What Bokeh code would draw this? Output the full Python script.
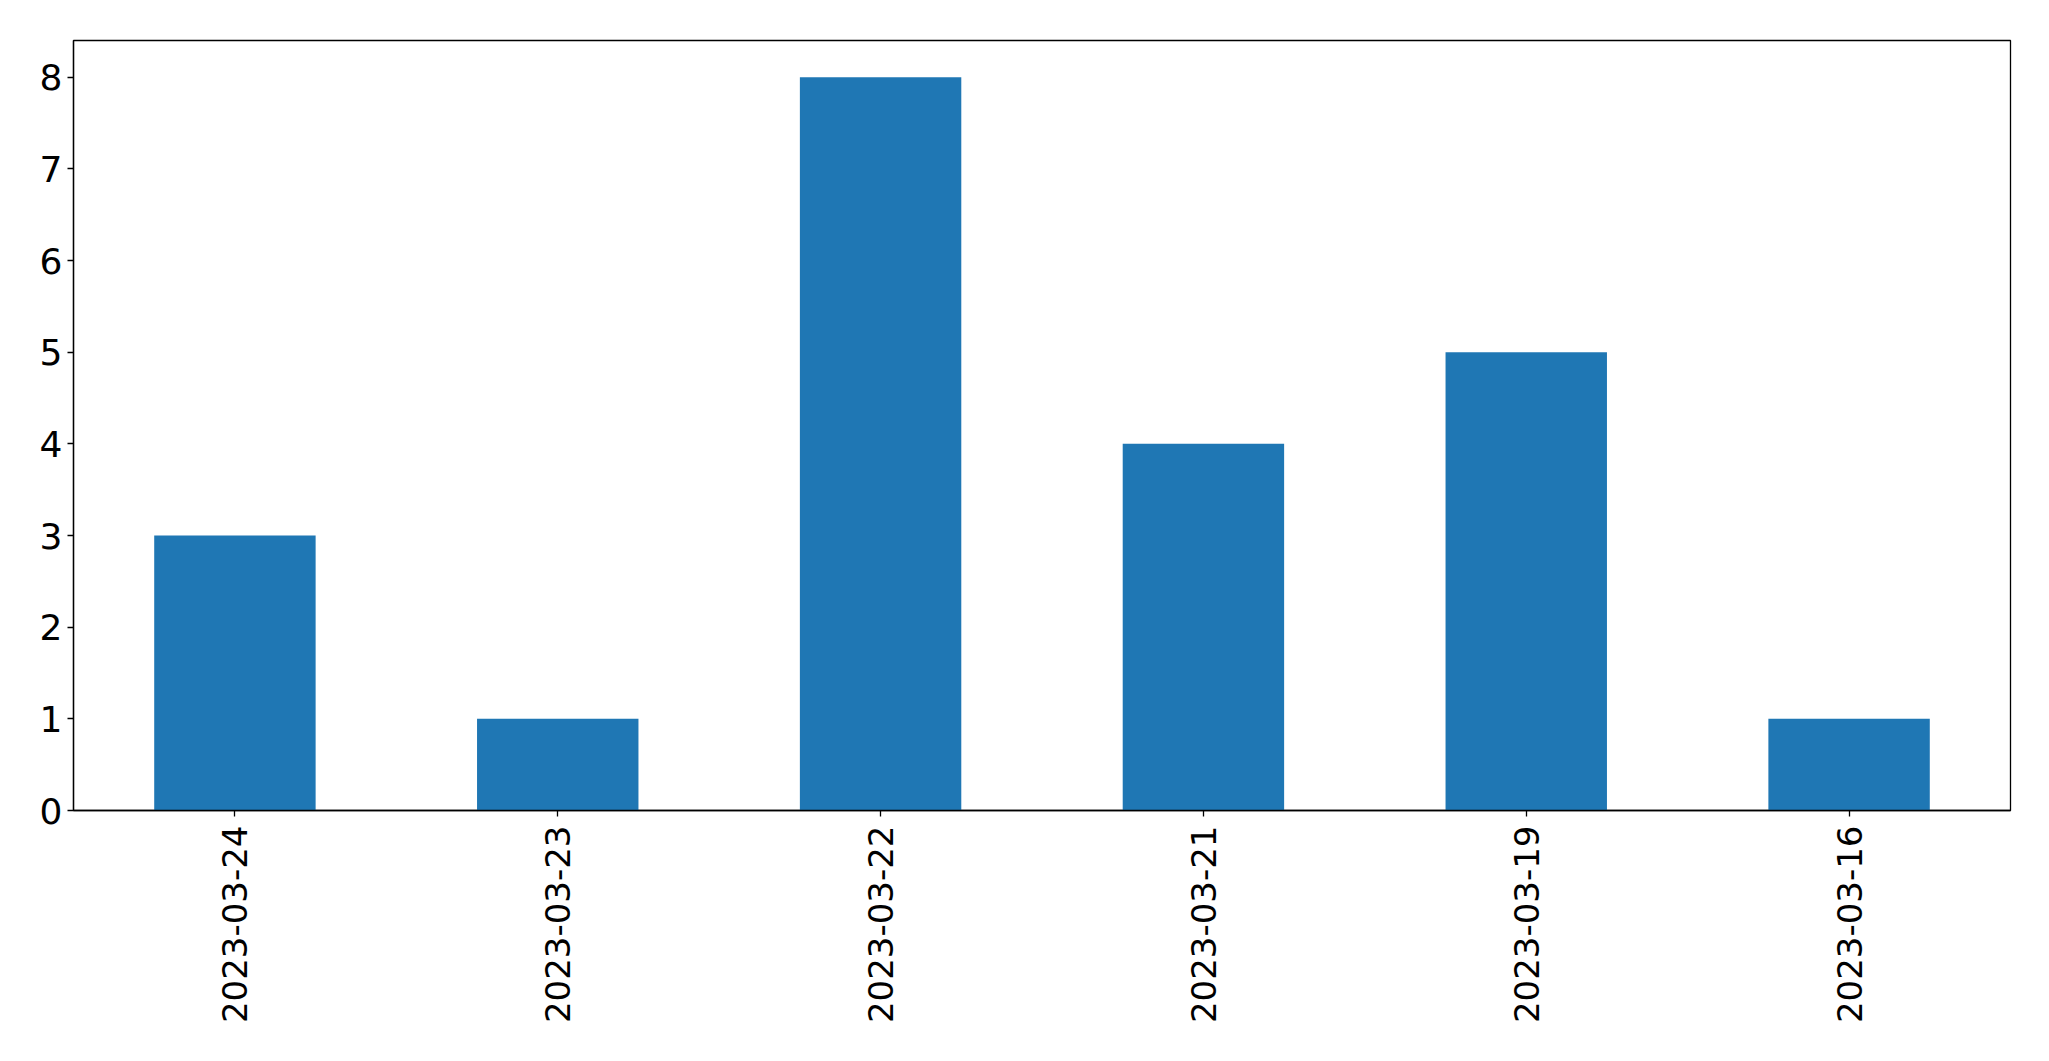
import math
from bokeh.plotting import figure
from bokeh.models import ColumnDataSource, FactorRange, Range1d, FixedTicker
from bokeh.embed import file_html
from bokeh.resources import INLINE

dates = ["2023-03-24", "2023-03-23", "2023-03-22", "2023-03-21", "2023-03-19", "2023-03-16"]
counts = [3, 1, 8, 4, 5, 1]
y_ticks = [0, 1, 2, 3, 4, 5, 6, 7, 8]

source = ColumnDataSource(data=dict(dates=dates, counts=counts))

p = figure(
    x_range=FactorRange(*dates),
    y_range=Range1d(0, 8.4),
    frame_width=1937,
    frame_height=770,
    min_border_left=73,
    min_border_top=40,
    min_border_right=25,
    min_border_bottom=220,
    output_backend="svg",
    toolbar_location=None,
    tools="",
)

p.vbar(x="dates", top="counts", width=0.5, source=source,
       fill_color="#1f77b4", line_color=None)

p.xgrid.visible = False
p.ygrid.visible = False
p.outline_line_color = "black"
p.outline_line_width = 1.3
p.outline_line_alpha = 1.0

for ax in (p.xaxis[0], p.yaxis[0]):
    ax.axis_line_color = "black"
    ax.axis_line_width = 1.3
    ax.major_tick_line_color = "black"
    ax.major_tick_line_width = 1.3
    ax.major_tick_out = 6
    ax.major_tick_in = 0
    ax.minor_tick_line_color = None
    ax.major_label_text_font = "DejaVu Sans"
    ax.major_label_text_color = "black"

p.yaxis[0].major_label_text_font_size = "36px"
p.xaxis[0].major_label_text_font_size = "34px"
p.yaxis[0].ticker = FixedTicker(ticks=y_ticks)
p.yaxis[0].major_label_standoff = 5
p.xaxis[0].major_label_orientation = math.pi / 2
p.xaxis[0].major_label_standoff = 9

open("out.html", "w").write(file_html(p, INLINE))
